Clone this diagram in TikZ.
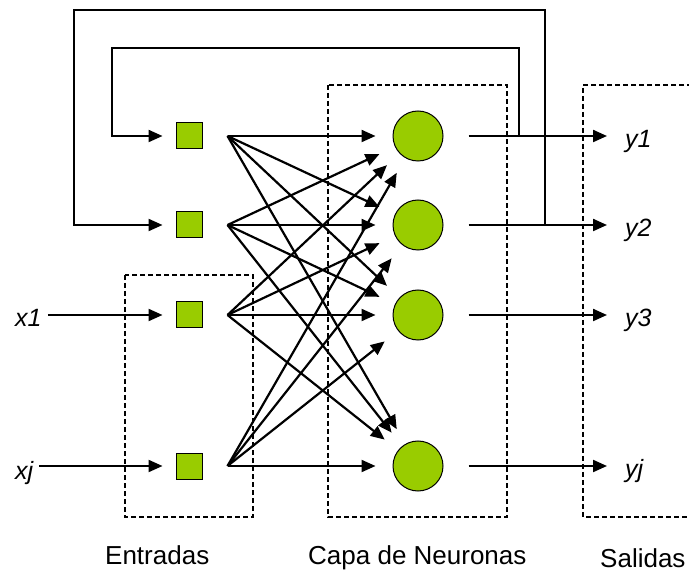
\documentclass[tikz,border=0pt]{standalone}
\usepackage{fontspec}
\setmainfont{Liberation Sans}
\usetikzlibrary{arrows.meta}
\definecolor{cellgreen}{HTML}{99CC00}
\begin{document}
\begin{tikzpicture}[x=1pt,y=-1pt,
  wire/.style={line width=2.2pt},
  arr/.style={wire,-{Triangle[length=14pt,width=12pt]}},
  unit/.style={draw, line width=1pt, fill=cellgreen, minimum size=26pt, inner sep=0pt},
  neuron/.style={draw, circle, line width=1pt, fill=cellgreen, minimum size=50pt, inner sep=0pt},
  group/.style={line width=1.3pt, dash pattern=on 5pt off 3pt},
  sig/.style={font=\fontsize{25}{30}\selectfont\itshape, inner sep=0pt, anchor=base west},
  caption/.style={font=\fontsize{26}{31}\selectfont, inner sep=0pt, anchor=base west}]
\useasboundingbox (0,0) rectangle (689,572);

% dashed groups: inputs, neuron layer, outputs (open to the right)
\draw[group] (125,275) rectangle (253,517);
\draw[group] (328,85) rectangle (507,517);
\draw[group] (700,85) -- (583,85) -- (583,517) -- (700,517);

% input units
\node[unit] (s1) at (189,136) {};
\node[unit] (s2) at (189,225) {};
\node[unit] (s3) at (189,315) {};
\node[unit] (s4) at (189,466) {};

% neurons
\node[neuron] (n1) at (418,136) {};
\node[neuron] (n2) at (418,225) {};
\node[neuron] (n3) at (418,315) {};
\node[neuron] (n4) at (418,466) {};

% signal labels
\node[sig] (x1) at (15,327) {x1};
\node[sig] (xj) at (15,479) {xj};
\node[sig] (y1) at (625,148) {y1};
\node[sig] (y2) at (625,237) {y2};
\node[sig] (y3) at (625,327) {y3};
\node[sig] (yj) at (625,478) {yj};

% captions
\node[caption] (cin)  at (105,564) {Entradas};
\node[caption] (clay) at (308,564) {Capa de Neuronas};
\node[caption] (cout) at (600,567) {Salidas};

% fan-out points of the input units
\foreach \i in {1,...,4}
  \coordinate (f\i) at ([xshift=25pt]s\i.east);

% full connection: every input unit to every neuron
\foreach \i in {1,...,4}
  \foreach \j in {1,...,4}
    \draw[arr, shorten >=17pt] (f\i) -- (n\j);

% outputs
\foreach \k/\l in {1/y1,2/y2,3/y3,4/yj}
  \draw[arr, shorten >=18pt] ([xshift=25pt]n\k.east) -- (n\k -| \l.west);

% external inputs
\draw[arr, shorten >=13pt, shorten <=6pt] (s3 -| x1.east) -- (s3.west);
\draw[arr, shorten >=13pt, shorten <=6pt] (s4 -| xj.east) -- (s4.west);

% feedback loops
\coordinate (j1) at (519,136);
\coordinate (c1) at (112,48);
\coordinate (j2) at (545,225);
\coordinate (c2) at (74,10);
\draw[arr, shorten >=13pt] (j1) |- (c1) |- (s1.west);
\draw[arr, shorten >=13pt] (j2) |- (c2) |- (s2.west);
\end{tikzpicture}
\end{document}
